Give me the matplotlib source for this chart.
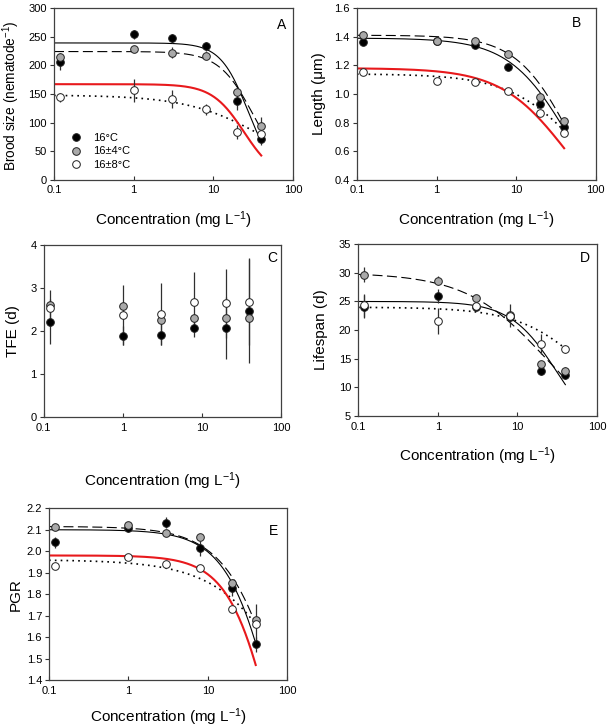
import numpy as np
import matplotlib
matplotlib.use("Agg")
import matplotlib.pyplot as plt
from matplotlib.lines import Line2D

plt.rcParams['font.family'] = ['Liberation Sans', 'DejaVu Sans']
plt.rcParams['mathtext.fontset'] = 'custom'
plt.rcParams['mathtext.rm'] = 'Liberation Sans'
plt.rcParams['mathtext.it'] = 'Liberation Sans:italic'

# concentrations (mg/L)
conc = [0.12, 1, 3, 8, 20, 40]
temp_labels = ['16°C', '16±4°C', '16±8°C']

# A: brood size
brood_16 = [206, 254, 247, 233, 137, 71]
brood_16_err = [15, 8, 8, 8, 15, 10]
brood_4 = [214, 228, 222, 217, 154, 94]
brood_4_err = [6, 4, 10, 6, 6, 15]
brood_8 = [144, 156, 141, 123, 84, 80]
brood_8_err = [8, 20, 15, 10, 12, 10]

# B: length (um)
len_16 = [1.36, 1.37, 1.34, 1.19, 0.93, 0.77]
len_4 = [1.41, 1.37, 1.37, 1.28, 0.98, 0.81]
len_8 = [1.15, 1.09, 1.08, 1.02, 0.87, 0.73]

# C: TFE (d)
tfe_16 = [2.22, 1.90, 1.92, 2.07, 2.07, 2.48]
tfe_16_err = [0.52, 0.22, 0.25, 0.2, 0.72, 1.23]
tfe_4 = [2.60, 2.58, 2.27, 2.31, 2.30, 2.30]
tfe_4_err = [0.05, 0.05, 0.05, 0.05, 0.05, 0.05]
tfe_8 = [2.55, 2.38, 2.40, 2.69, 2.65, 2.69]
tfe_8_err = [0.42, 0.7, 0.73, 0.69, 0.8, 1.0]

# D: lifespan (d)
life_16 = [24.1, 25.9, 24.0, 22.3, 12.9, 12.1]
life_16_err = [2.0, 1.2, 0.5, 0.5, 0.7, 0.7]
life_4 = [29.7, 28.6, 25.6, 22.6, 14.0, 12.9]
life_4_err = [1.3, 0.8, 0.5, 0.5, 0.6, 0.6]
life_8 = [24.3, 21.6, 24.2, 22.5, 17.6, 16.7]
life_8_err = [2.0, 2.2, 0.7, 2.0, 1.8, 0.7]

# E: PGR
pgr_16 = [2.042, 2.11, 2.132, 2.013, 1.83, 1.566]
pgr_16_err = [0.025, 0.02, 0.025, 0.035, 0.04, 0.035]
pgr_4 = [2.112, 2.124, 2.085, 2.068, 1.853, 1.679]
pgr_4_err = [0.01, 0.01, 0.01, 0.01, 0.01, 0.01]
pgr_8 = [1.932, 1.973, 1.942, 1.921, 1.733, 1.663]
pgr_8_err = [0.01, 0.01, 0.01, 0.01, 0.01, 0.09]

# fitted dose-response curves: (top, ec50, slope), one per series + red model
fit_A = [(239, 27.4, 2.49), (224, 32.2, 2.0), (148, 45.2, 0.89), (167, 24.3, 2.16)]
fit_B = [(1.39, 46.5, 1.15), (1.41, 48.4, 1.27), (1.14, 77, 0.95), (1.18, 44.2, 1.04)]
fit_D = [(25.0, 32, 1.47), (30.0, 23, 0.86), (24.0, 96, 0.96)]
fit_E = [(2.10, 89.5, 1.35), (2.115, 123, 1.15), (1.96, 305, 0.84), (1.98, 83, 1.45)]

marker_faces = ['black', '#a9a9a9', 'white']
curve_styles = [dict(color='black', lw=0.8, ls='-'),
                dict(color='black', lw=0.8, ls=(0, (9, 4))),
                dict(color='black', lw=1.2, ls=(0, (1, 2.5))),
                dict(color='#e8191c', lw=1.5, ls='-')]


def style_axes(ax, ylim, yticks, letter, lx, ly):
    ax.set_xscale('log')
    ax.set_xlim(0.1, 100)
    ax.set_ylim(*ylim)
    ax.set_xticks([0.1, 1, 10, 100])
    ax.set_xticklabels(['0.1', '1', '10', '100'])
    ax.xaxis.set_minor_locator(matplotlib.ticker.NullLocator())
    ax.set_yticks(yticks)
    ax.tick_params(axis='x', direction='in', length=3, labelsize=8, pad=4, color='#333333')
    ax.tick_params(axis='y', direction='out', length=3, labelsize=8, pad=2, color='#333333')
    for s in ax.spines.values():
        s.set_color('#404040')
        s.set_linewidth(0.9)
    ax.text(lx, ly, letter, transform=ax.transAxes, fontsize=10, ha='center', va='center')


def draw_points(ax, series, errs):
    for y, e, fc in zip(series, errs, marker_faces):
        ax.errorbar(conc, y, yerr=e, fmt='o', ms=5.5, mfc=fc, mec='#202020', mew=0.7,
                    ecolor='#303030', elinewidth=0.9, capsize=0, zorder=3)


def draw_curves(ax, fits, styles):
    xs = np.logspace(-1, np.log10(40), 200)
    for (top, ec50, h), st in zip(fits, styles):
        ax.plot(xs, top / (1 + (xs / ec50) ** h), zorder=2, **st)


fig = plt.figure(figsize=(6.08, 7.28), dpi=100)
xlab = 'Concentration (mg L$^{-1}$)'

# A
axA = fig.add_axes([0.0888, 0.753, 0.393, 0.236])
draw_curves(axA, fit_A, curve_styles)
draw_points(axA, [brood_16, brood_4, brood_8], [brood_16_err, brood_4_err, brood_8_err])
style_axes(axA, (0, 300), [0, 50, 100, 150, 200, 250, 300], 'A', 0.954, 0.90)
axA.set_ylabel('Brood size (nematode$^{-1}$)', fontsize=9.8)
axA.set_xlabel(xlab, fontsize=11)
axA.yaxis.set_label_coords(-0.135, 0.49)
axA.xaxis.set_label_coords(0.5, -0.17)
handles = [Line2D([], [], marker='o', ls='', ms=5.5, mfc=fc, mec='#202020', mew=0.7)
           for fc in marker_faces]
axA.legend(handles, temp_labels, loc='lower left', bbox_to_anchor=(0.015, 0.0),
           frameon=False, fontsize=8, handletextpad=0.8, labelspacing=0.3, handlelength=1.5)

# B
axB = fig.add_axes([0.587, 0.753, 0.393, 0.236])
draw_curves(axB, fit_B, curve_styles)
draw_points(axB, [len_16, len_4, len_8], [[0.01] * 6] * 3)
style_axes(axB, (0.4, 1.6), [0.4, 0.6, 0.8, 1.0, 1.2, 1.4, 1.6], 'B', 0.92, 0.913)
axB.set_yticklabels(['0.4', '0.6', '0.8', '1.0', '1.2', '1.4', '1.6'])
axB.set_ylabel('Length (μm)', fontsize=11)
axB.set_xlabel(xlab, fontsize=11)
axB.yaxis.set_label_coords(-0.13, 0.5)
axB.xaxis.set_label_coords(0.5, -0.17)

# C
axC = fig.add_axes([0.072, 0.427, 0.390, 0.236])
draw_points(axC, [tfe_16, tfe_4, tfe_8], [tfe_16_err, tfe_4_err, tfe_8_err])
style_axes(axC, (0, 4), [0, 1, 2, 3, 4], 'C', 0.962, 0.924)
axC.set_ylabel('TFE (d)', fontsize=11)
axC.set_xlabel(xlab, fontsize=11)
axC.yaxis.set_label_coords(-0.10, 0.5)
axC.xaxis.set_label_coords(0.5, -0.31)

# D
axD = fig.add_axes([0.589, 0.4286, 0.393, 0.236])
draw_curves(axD, fit_D, curve_styles[:3])
draw_points(axD, [life_16, life_4, life_8], [life_16_err, life_4_err, life_8_err])
style_axes(axD, (5, 35), [5, 10, 15, 20, 25, 30, 35], 'D', 0.95, 0.92)
axD.set_ylabel('Lifespan (d)', fontsize=11)
axD.set_xlabel(xlab, fontsize=11)
axD.yaxis.set_label_coords(-0.125, 0.5)
axD.xaxis.set_label_coords(0.5, -0.17)

# E
axE = fig.add_axes([0.0806, 0.0659, 0.392, 0.236])
draw_curves(axE, fit_E, curve_styles)
draw_points(axE, [pgr_16, pgr_4, pgr_8], [pgr_16_err, pgr_4_err, pgr_8_err])
style_axes(axE, (1.4, 2.2), [1.4, 1.5, 1.6, 1.7, 1.8, 1.9, 2.0, 2.1, 2.2], 'E', 0.94, 0.87)
axE.set_yticklabels(['1.4', '1.5', '1.6', '1.7', '1.8', '1.9', '2.0', '2.1', '2.2'])
axE.set_ylabel('PGR', fontsize=11)
axE.set_xlabel(xlab, fontsize=11)
axE.yaxis.set_label_coords(-0.11, 0.5)
axE.xaxis.set_label_coords(0.5, -0.155)

fig.savefig('out.png', dpi=100)
